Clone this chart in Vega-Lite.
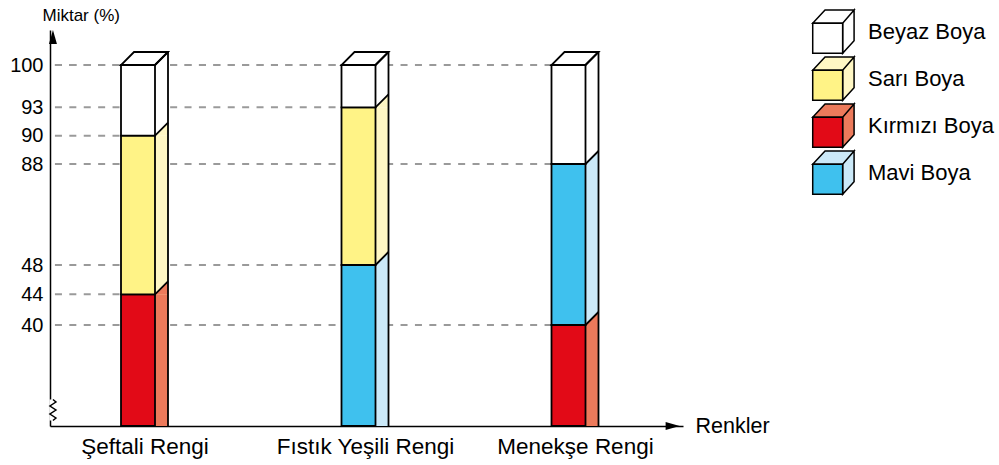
{
  "$schema": "https://vega.github.io/schema/vega-lite/v6.json",
  "width": 633,
  "height": 396,
  "autosize": "none",
  "padding": {"left": 50, "top": 30, "right": 316, "bottom": 39},
  "background": "white",
  "config": {"view": {"stroke": null}, "font": "Liberation Sans"},
  "data": {
    "values": [
      {"renk": "Şeftali Rengi", "no": 1, "boya": "Kırmızı Boya", "miktar": 44, "sira": 1},
      {"renk": "Şeftali Rengi", "no": 1, "boya": "Sarı Boya", "miktar": 46, "sira": 2},
      {"renk": "Şeftali Rengi", "no": 1, "boya": "Beyaz Boya", "miktar": 10, "sira": 3},
      {"renk": "Fıstık Yeşili Rengi", "no": 2, "boya": "Mavi Boya", "miktar": 48, "sira": 1},
      {"renk": "Fıstık Yeşili Rengi", "no": 2, "boya": "Sarı Boya", "miktar": 45, "sira": 2},
      {"renk": "Fıstık Yeşili Rengi", "no": 2, "boya": "Beyaz Boya", "miktar": 7, "sira": 3},
      {"renk": "Menekşe Rengi", "no": 3, "boya": "Kırmızı Boya", "miktar": 40, "sira": 1},
      {"renk": "Menekşe Rengi", "no": 3, "boya": "Mavi Boya", "miktar": 48, "sira": 2},
      {"renk": "Menekşe Rengi", "no": 3, "boya": "Beyaz Boya", "miktar": 12, "sira": 3}
    ]
  },
  "transform": [
    {"stack": "miktar", "groupby": ["renk"], "sort": [{"field": "sira", "order": "ascending"}], "as": ["alt", "ust"]}
  ],
  "encoding": {
    "x": {
      "field": "no",
      "type": "quantitative",
      "scale": {"domain": [0, 1, 2, 3, 4], "range": [0, 94.5, 315, 525, 633], "nice": false, "zero": false},
      "axis": {
        "values": [1, 2, 3],
        "labelExpr": "datum.value == 1 ? 'Şeftali Rengi' : datum.value == 2 ? 'Fıstık Yeşili Rengi' : 'Menekşe Rengi'",
        "title": "Renkler",
        "titleX": 645,
        "titleY": 0,
        "titleAlign": "left",
        "titleBaseline": "middle",
        "titleFontSize": 21.5,
        "titleFontWeight": "normal",
        "titleColor": "black",
        "labelFontSize": 22.5,
        "labelColor": "black",
        "labelPadding": 9,
        "labelBaseline": "top",
        "ticks": false,
        "tickSize": 0,
        "grid": false,
        "domainColor": "black",
        "domainWidth": 1.5,
        "labelOverlap": false,
        "labelFlush": false,
        "labelBound": false
      }
    },
    "y": {
      "field": "ust",
      "type": "quantitative",
      "scale": {
        "domain": [0, 40, 44, 48, 88, 90, 93, 100, 110],
        "range": [396, 295, 264.3, 235, 134, 105.7, 77.3, 35, 0],
        "nice": false,
        "zero": false
      },
      "axis": {
        "values": [40, 44, 48, 88, 90, 93, 100],
        "title": "Miktar (%)",
        "titleAngle": 0,
        "titleAlign": "left",
        "titleBaseline": "alphabetic",
        "titleX": -8,
        "titleY": -10,
        "titleFontSize": 17,
        "titleFontWeight": "normal",
        "titleColor": "black",
        "labelFontSize": 20,
        "labelColor": "black",
        "labelPadding": 7,
        "ticks": false,
        "tickSize": 0,
        "grid": false,
        "domainColor": "black",
        "domainWidth": 1.5,
        "labelOverlap": false,
        "labelFlush": false,
        "labelBound": false
      }
    }
  },
  "layer": [
    {
      "mark": {"type": "rule", "color": "#9a9a9a", "strokeWidth": 2, "strokeDash": [7, 7.4], "strokeDashOffset": -2},
      "encoding": {
        "x": {"datum": 0, "type": "quantitative"},
        "x2": {"field": "no"}
      }
    },
    {
      "mark": {"type": "bar", "width": 13, "xOffset": 17, "yOffset": -13},
      "encoding": {
        "y2": {"field": "alt"},
        "fill": {
          "field": "boya",
          "type": "nominal",
          "scale": {
            "domain": ["Beyaz Boya", "Sarı Boya", "Kırmızı Boya", "Mavi Boya"],
            "range": ["#ffffff", "#fff7c4", "#ec7a5b", "#cbe9f8"]
          },
          "legend": {
            "orient": "none",
            "legendX": 761.9,
            "legendY": -19.8,
            "title": null,
            "symbolType": "M-1.0015,1.044M-1.0015,-0.405L-0.405,-1.0547H1.0015L0.4475,-0.405ZM0.4475,-0.405L1.0015,-1.0547V0.4368L0.4475,1.044Z",
            "symbolSize": 1706,
            "symbolStrokeColor": "black",
            "symbolStrokeWidth": 1.5,
            "symbolOpacity": 1,
            "labelFontSize": 22,
            "labelExpr": "' '",
            "labelOpacity": 0,
            "labelOffset": 13.1,
            "rowPadding": -4.8,
            "padding": 0
          }
        }
      }
    },
    {
      "transform": [{"filter": "datum.ust < 100"}],
      "mark": {"type": "point", "shape": "M0,0H1V-1Z", "size": 676, "filled": true, "opacity": 1, "strokeWidth": 0, "xOffset": 10.5},
      "encoding": {
        "fill": {
          "field": "boya",
          "type": "nominal",
          "scale": {
            "domain": ["Beyaz Boya", "Sarı Boya", "Kırmızı Boya", "Mavi Boya"],
            "range": ["#ffffff", "#fff7c4", "#ec7a5b", "#cbe9f8"]
          },
          "legend": null
        }
      }
    },
    {
      "mark": {"type": "bar", "width": 34, "xOffset": -6.5, "stroke": "black", "strokeWidth": 1.8, "strokeJoin": "miter"},
      "encoding": {
        "y2": {"field": "alt"},
        "fill": {
          "field": "boya",
          "type": "nominal",
          "scale": {
            "domain": ["Beyaz Boya", "Sarı Boya", "Kırmızı Boya", "Mavi Boya"],
            "range": ["#ffffff", "#fff386", "#e20a17", "#3fc1ee"]
          },
          "legend": {
            "orient": "none",
            "legendX": 761.9,
            "legendY": -19.8,
            "title": null,
            "symbolType": "M1.0015,-1.0547M-1.0015,-0.405H0.4475V1.044H-1.0015Z",
            "symbolSize": 1706,
            "symbolStrokeColor": "black",
            "symbolStrokeWidth": 1.5,
            "symbolOpacity": 1,
            "labelFontSize": 22,
            "labelColor": "black",
            "labelOffset": 13.1,
            "rowPadding": -4.8,
            "padding": 0
          }
        }
      }
    },
    {
      "transform": [{"filter": "datum.ust == 100"}],
      "mark": {"type": "point", "shape": "M-1,0L0.4468,0L1,-0.5532L-0.4468,-0.5532Z", "size": 2209, "filled": true, "fill": "white", "stroke": "black", "strokeWidth": 1.8, "opacity": 1, "strokeJoin": "miter"}
    },
    {
      "transform": [{"filter": "datum.ust == 100"}],
      "mark": {"type": "rule", "xOffset": 23.5, "yOffset": -13, "color": "black", "strokeWidth": 1.8},
      "encoding": {
        "y2": {"datum": 0}
      }
    },
    {
      "mark": {"type": "rule", "xOffset": 10.5, "x2Offset": 23.5, "y2Offset": -13, "color": "black", "strokeWidth": 1.8},
      "encoding": {
        "x2": {"field": "no"},
        "y2": {"field": "ust"}
      }
    },
    {
      "transform": [{"filter": "datum.no == 1 && datum.sira == 1"}],
      "mark": {"type": "point", "shape": "M-0.35,-2.65H0.35V-0.55H-0.35Z", "size": 400, "filled": true, "fill": "white", "strokeWidth": 0, "opacity": 1},
      "encoding": {
        "x": {"datum": 0, "type": "quantitative"},
        "y": {"datum": 0, "type": "quantitative"}
      }
    },
    {
      "transform": [{"filter": "datum.no == 1 && datum.sira == 1"}],
      "mark": {"type": "point", "shape": "M0,-2.65L0.3,-2.4L-0.3,-2.0L0.3,-1.6L-0.3,-1.2L0.3,-0.8L0,-0.55", "size": 400, "filled": false, "stroke": "black", "strokeWidth": 1.5, "opacity": 1},
      "encoding": {
        "x": {"datum": 0, "type": "quantitative"},
        "y": {"datum": 0, "type": "quantitative"}
      }
    },
    {
      "transform": [{"filter": "datum.no == 1 && datum.sira == 1"}],
      "mark": {"type": "point", "shape": "M0,0L-0.5,1.75L0.5,1.75Z", "size": 256, "filled": true, "fill": "black", "strokeWidth": 0, "opacity": 1},
      "encoding": {
        "x": {"datum": 0, "type": "quantitative"},
        "y": {"datum": 110, "type": "quantitative"}
      }
    },
    {
      "transform": [{"filter": "datum.no == 1 && datum.sira == 1"}],
      "mark": {"type": "point", "shape": "M0,0L-1.75,-0.5L-1.75,0.5Z", "size": 256, "filled": true, "fill": "black", "strokeWidth": 0, "opacity": 1},
      "encoding": {
        "x": {"datum": 4, "type": "quantitative"},
        "y": {"datum": 0, "type": "quantitative"}
      }
    }
  ],
  "resolve": {"scale": {"fill": "independent"}}
}
